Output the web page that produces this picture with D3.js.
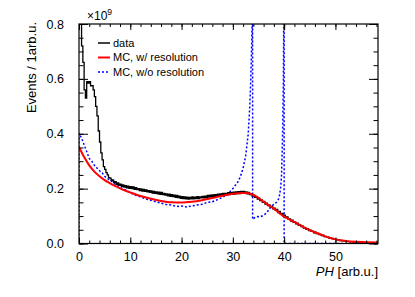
<!DOCTYPE html>
<html>
<head>
<meta charset="utf-8">
<script src="https://cdn.jsdelivr.net/npm/d3@7"></script>
<style>
  body { margin: 0; background: #fff; }
  svg { font-family: "Liberation Sans", Arial, sans-serif; }
</style>
</head>
<body>
<div id="chart"></div>
<script>

// data histogram, bins of 0.25 starting at 0
const dataBinWidth = 0.25;
const dataValues = [
  0.86, 0.84, 0.72, 0.66, 0.56, 0.53, 0.59, 0.585, 0.59, 0.575,
  0.575, 0.56, 0.535, 0.50, 0.465, 0.41, 0.37, 0.33, 0.305, 0.28,
  0.27, 0.258, 0.25, 0.24, 0.238, 0.23, 0.232, 0.222, 0.225, 0.216,
  0.221, 0.212, 0.216, 0.208, 0.214, 0.206, 0.211, 0.203, 0.209, 0.201,
  0.207, 0.2, 0.206, 0.197,  0.204, 0.196, 0.2, 0.193,
  0.199, 0.191, 0.197, 0.19,  0.195, 0.188, 0.193, 0.186,
  0.192, 0.184, 0.19, 0.183,  0.188, 0.181, 0.187, 0.179,
  0.186, 0.178, 0.183, 0.176,  0.181, 0.174, 0.18, 0.172,
  0.178, 0.171, 0.176, 0.168,  0.175, 0.167, 0.173, 0.165,
  0.171, 0.164, 0.17, 0.163,  0.169, 0.162, 0.168, 0.163,
  0.17, 0.163, 0.169, 0.164,  0.171, 0.164, 0.17, 0.166,
  0.172, 0.166, 0.173, 0.167,  0.175, 0.169, 0.176, 0.17,
  0.177, 0.171, 0.178, 0.172,  0.18, 0.174, 0.181, 0.175,
  0.183, 0.176, 0.183, 0.177,  0.185, 0.178, 0.185, 0.179,
  0.187, 0.18, 0.188, 0.182,  0.189, 0.182, 0.19, 0.184,
  0.19, 0.183, 0.188, 0.181,  0.186, 0.178, 0.182, 0.173,
  0.176, 0.168, 0.171, 0.162,  0.165, 0.156, 0.159, 0.15,
  0.153, 0.144, 0.147, 0.138,  0.141, 0.133, 0.135, 0.126,
  0.129, 0.121, 0.124, 0.113,  0.117, 0.107, 0.11, 0.1,
  0.103, 0.094, 0.097, 0.088,  0.09, 0.082, 0.085, 0.077,
  0.079, 0.072, 0.074, 0.066,  0.068, 0.062, 0.063, 0.056,
  0.058, 0.052, 0.054, 0.047,  0.049, 0.044, 0.045, 0.039,
  0.041, 0.036, 0.037, 0.032,  0.033, 0.029, 0.03, 0.025,
  0.026, 0.023, 0.023, 0.019,  0.02, 0.018, 0.017, 0.015,
  0.015, 0.013, 0.013, 0.011,  0.011, 0.01, 0.01, 0.009,
  0.008, 0.008, 0.007, 0.007,  0.006, 0.006, 0.005, 0.005,
  0.005, 0.004, 0.004, 0.004,  0.004, 0.003, 0.003, 0.003,
  0.003, 0.003, 0.002, 0.002,  0.002, 0.002, 0.002, 0.001,
  0.001
];

// MC with resolution (smooth curve)
const mcResX = [0, 1, 2, 3, 4, 5, 6, 7, 8, 9, 10, 12, 14, 16, 18, 20, 22, 24, 26, 28,
  30, 32, 33, 34, 35, 36, 37, 38, 39, 40, 41, 42, 43, 44, 45, 46, 47, 48, 49, 50,
  51, 52, 54, 56, 58.3];
const mcResY = [0.352, 0.315, 0.285, 0.262, 0.245, 0.231, 0.22, 0.21, 0.201, 0.193, 0.186,
  0.173, 0.163, 0.155, 0.15, 0.149, 0.152, 0.158, 0.166, 0.174,
  0.181, 0.184, 0.183, 0.177, 0.166, 0.152, 0.139, 0.127, 0.112, 0.098, 0.088, 0.078,
  0.068, 0.058, 0.049, 0.041, 0.034, 0.026, 0.02, 0.015,
  0.012, 0.009, 0.006, 0.005, 0.004];

// MC without resolution
const mcNoResX = [0, 0, 0.5, 1, 1.5, 2, 2.5, 3, 3.5, 4, 4.5, 5, 5.5, 6, 6.5, 7, 7.5, 8, 8.5,
  9, 9.5, 10, 10.5, 11, 12, 13, 14, 15, 16, 17, 18, 19, 20, 21, 22, 23, 24, 25, 26, 27,
  28, 29, 30, 31, 31.5, 32, 32.5, 33, 33.3, 33.5, 33.7, 33.85, 33.85, 34.3, 34.8, 35.3,
  35.9, 36.6, 37.2, 37.8, 38.5, 39, 39.3, 39.5, 39.7, 39.85, 39.95, 40, 40, 58.3];
const mcNoResY = [0, 0.40, 0.385, 0.36, 0.335, 0.31, 0.30, 0.285, 0.275, 0.265, 0.258, 0.245,
  0.238, 0.23, 0.225, 0.216, 0.212, 0.205, 0.20, 0.196, 0.19, 0.186, 0.18, 0.176, 0.17,
  0.162, 0.158, 0.152, 0.147, 0.142, 0.14, 0.135, 0.137, 0.133, 0.137, 0.14, 0.143, 0.15,
  0.152, 0.16, 0.168, 0.18, 0.2, 0.225, 0.245, 0.275, 0.32, 0.4, 0.5, 0.6, 0.75, 0.9,
  0.088, 0.095, 0.098, 0.097, 0.102, 0.112, 0.128, 0.14, 0.15, 0.165, 0.2, 0.25, 0.4,
  0.6, 0.9, 0.9, 0, 0];

const xDomain = [0, 58.3];
const yDomain = [0, 0.8];
const xMajorTicks = [0, 10, 20, 30, 40, 50];
const yMajorTicks = [0, 0.2, 0.4, 0.6, 0.8];

const legendLabels = ['data', 'MC, w/ resolution', 'MC, w/o resolution'];
const seriesColors = ['#000000', '#ff0000', '#0000ff'];

const width = 415, height = 297;
const margin = {top: 24, right: 37, bottom: 53.5, left: 79};
const plotW = width - margin.left - margin.right;
const plotH = height - margin.top - margin.bottom;

const svg = d3.select('#chart')
  .append('svg')
  .attr('width', width)
  .attr('height', height);

const xScale = d3.scaleLinear().domain(xDomain).range([0, plotW]);
const yScale = d3.scaleLinear().domain(yDomain).range([plotH, 0]);

svg.append('defs').append('clipPath')
  .attr('id', 'plot-clip')
  .append('rect')
  .attr('width', plotW)
  .attr('height', plotH);

const g = svg.append('g')
  .attr('transform', 'translate(' + margin.left + ',' + margin.top + ')');

const plot = g.append('g').attr('clip-path', 'url(#plot-clip)');

// data histogram as step line
const dataPts = [];
dataValues.forEach((v, i) => {
  dataPts.push([i * dataBinWidth, v]);
  dataPts.push([(i + 1) * dataBinWidth, v]);
});

const line = d3.line()
  .x(d => xScale(d[0]))
  .y(d => yScale(d[1]));

plot.append('path')
  .datum(d3.zip(mcNoResX, mcNoResY))
  .attr('fill', 'none')
  .attr('stroke', seriesColors[2])
  .attr('stroke-width', 1.5)
  .attr('stroke-dasharray', '2,2')
  .attr('d', line);

plot.append('path')
  .datum(dataPts)
  .attr('fill', 'none')
  .attr('stroke', seriesColors[0])
  .attr('stroke-width', 1.3)
  .attr('d', line);

plot.append('path')
  .datum(d3.zip(mcResX, mcResY))
  .attr('fill', 'none')
  .attr('stroke', seriesColors[1])
  .attr('stroke-width', 2)
  .attr('d', line.curve(d3.curveMonotoneX));

// axes, ticks inward on all four sides
const fmtY = d3.format('.1f');
const xMinor = d3.range(0, 58.3, 2);
const yMinor = d3.range(0, 0.801, 0.05);

const bottomAxis = g.append('g').attr('transform', 'translate(0,' + plotH + ')');
bottomAxis.call(d3.axisBottom(xScale).tickValues(xMinor).tickSize(-3).tickFormat(''));
bottomAxis.append('g').call(d3.axisBottom(xScale).tickValues(xMajorTicks).tickSize(-6).tickPadding(9));

const topAxis = g.append('g');
topAxis.call(d3.axisTop(xScale).tickValues(xMinor).tickSize(-3).tickFormat(''));
topAxis.append('g').call(d3.axisTop(xScale).tickValues(xMajorTicks).tickSize(-6).tickFormat(''));

const leftAxis = g.append('g');
leftAxis.call(d3.axisLeft(yScale).tickValues(yMinor).tickSize(-4.5).tickFormat(''));
leftAxis.append('g').call(d3.axisLeft(yScale).tickValues(yMajorTicks).tickSize(-9).tickPadding(15).tickFormat(fmtY));

const rightAxis = g.append('g').attr('transform', 'translate(' + plotW + ',0)');
rightAxis.call(d3.axisRight(yScale).tickValues(yMinor).tickSize(-4.5).tickFormat(''));
rightAxis.append('g').call(d3.axisRight(yScale).tickValues(yMajorTicks).tickSize(-9).tickFormat(''));

g.selectAll('.domain').remove();
g.selectAll('.tick line').attr('stroke', '#000').attr('stroke-width', 1);
g.selectAll('.tick text').attr('font-size', 12.5).attr('fill', '#000')
  .attr('font-family', '"Liberation Sans", Arial, sans-serif');

g.append('rect')
  .attr('width', plotW)
  .attr('height', plotH)
  .attr('fill', 'none')
  .attr('stroke', '#000')
  .attr('stroke-width', 1.2);

// exponent label
const expo = svg.append('text')
  .attr('x', 87)
  .attr('y', 20)
  .attr('font-size', 12)
  .text('\u00d710');
expo.append('tspan')
  .attr('font-size', 8.5)
  .attr('dy', -5)
  .text('9');

// axis titles
svg.append('text')
  .attr('transform', 'translate(36,22) rotate(-90)')
  .attr('text-anchor', 'end')
  .attr('font-size', 13)
  .text('Events / 1arb.u.');

const xTitle = svg.append('text')
  .attr('x', margin.left + plotW)
  .attr('y', 276)
  .attr('text-anchor', 'end')
  .attr('font-size', 13);
xTitle.append('tspan').attr('font-style', 'italic').text('PH');
xTitle.append('tspan').text(' [arb.u.]');

// legend
const legend = svg.append('g').attr('transform', 'translate(98,43)');
legendLabels.forEach((lab, i) => {
  const row = legend.append('g').attr('transform', 'translate(0,' + (i * 14.5) + ')');
  row.append('line')
    .attr('x1', 0).attr('x2', 12)
    .attr('stroke', seriesColors[i])
    .attr('stroke-width', i === 1 ? 2 : 1.5)
    .attr('stroke-dasharray', i === 2 ? '2,2' : null);
  row.append('text')
    .attr('x', 15)
    .attr('dy', '0.35em')
    .attr('font-size', 11)
    .text(lab);
});

</script>
</body>
</html>
